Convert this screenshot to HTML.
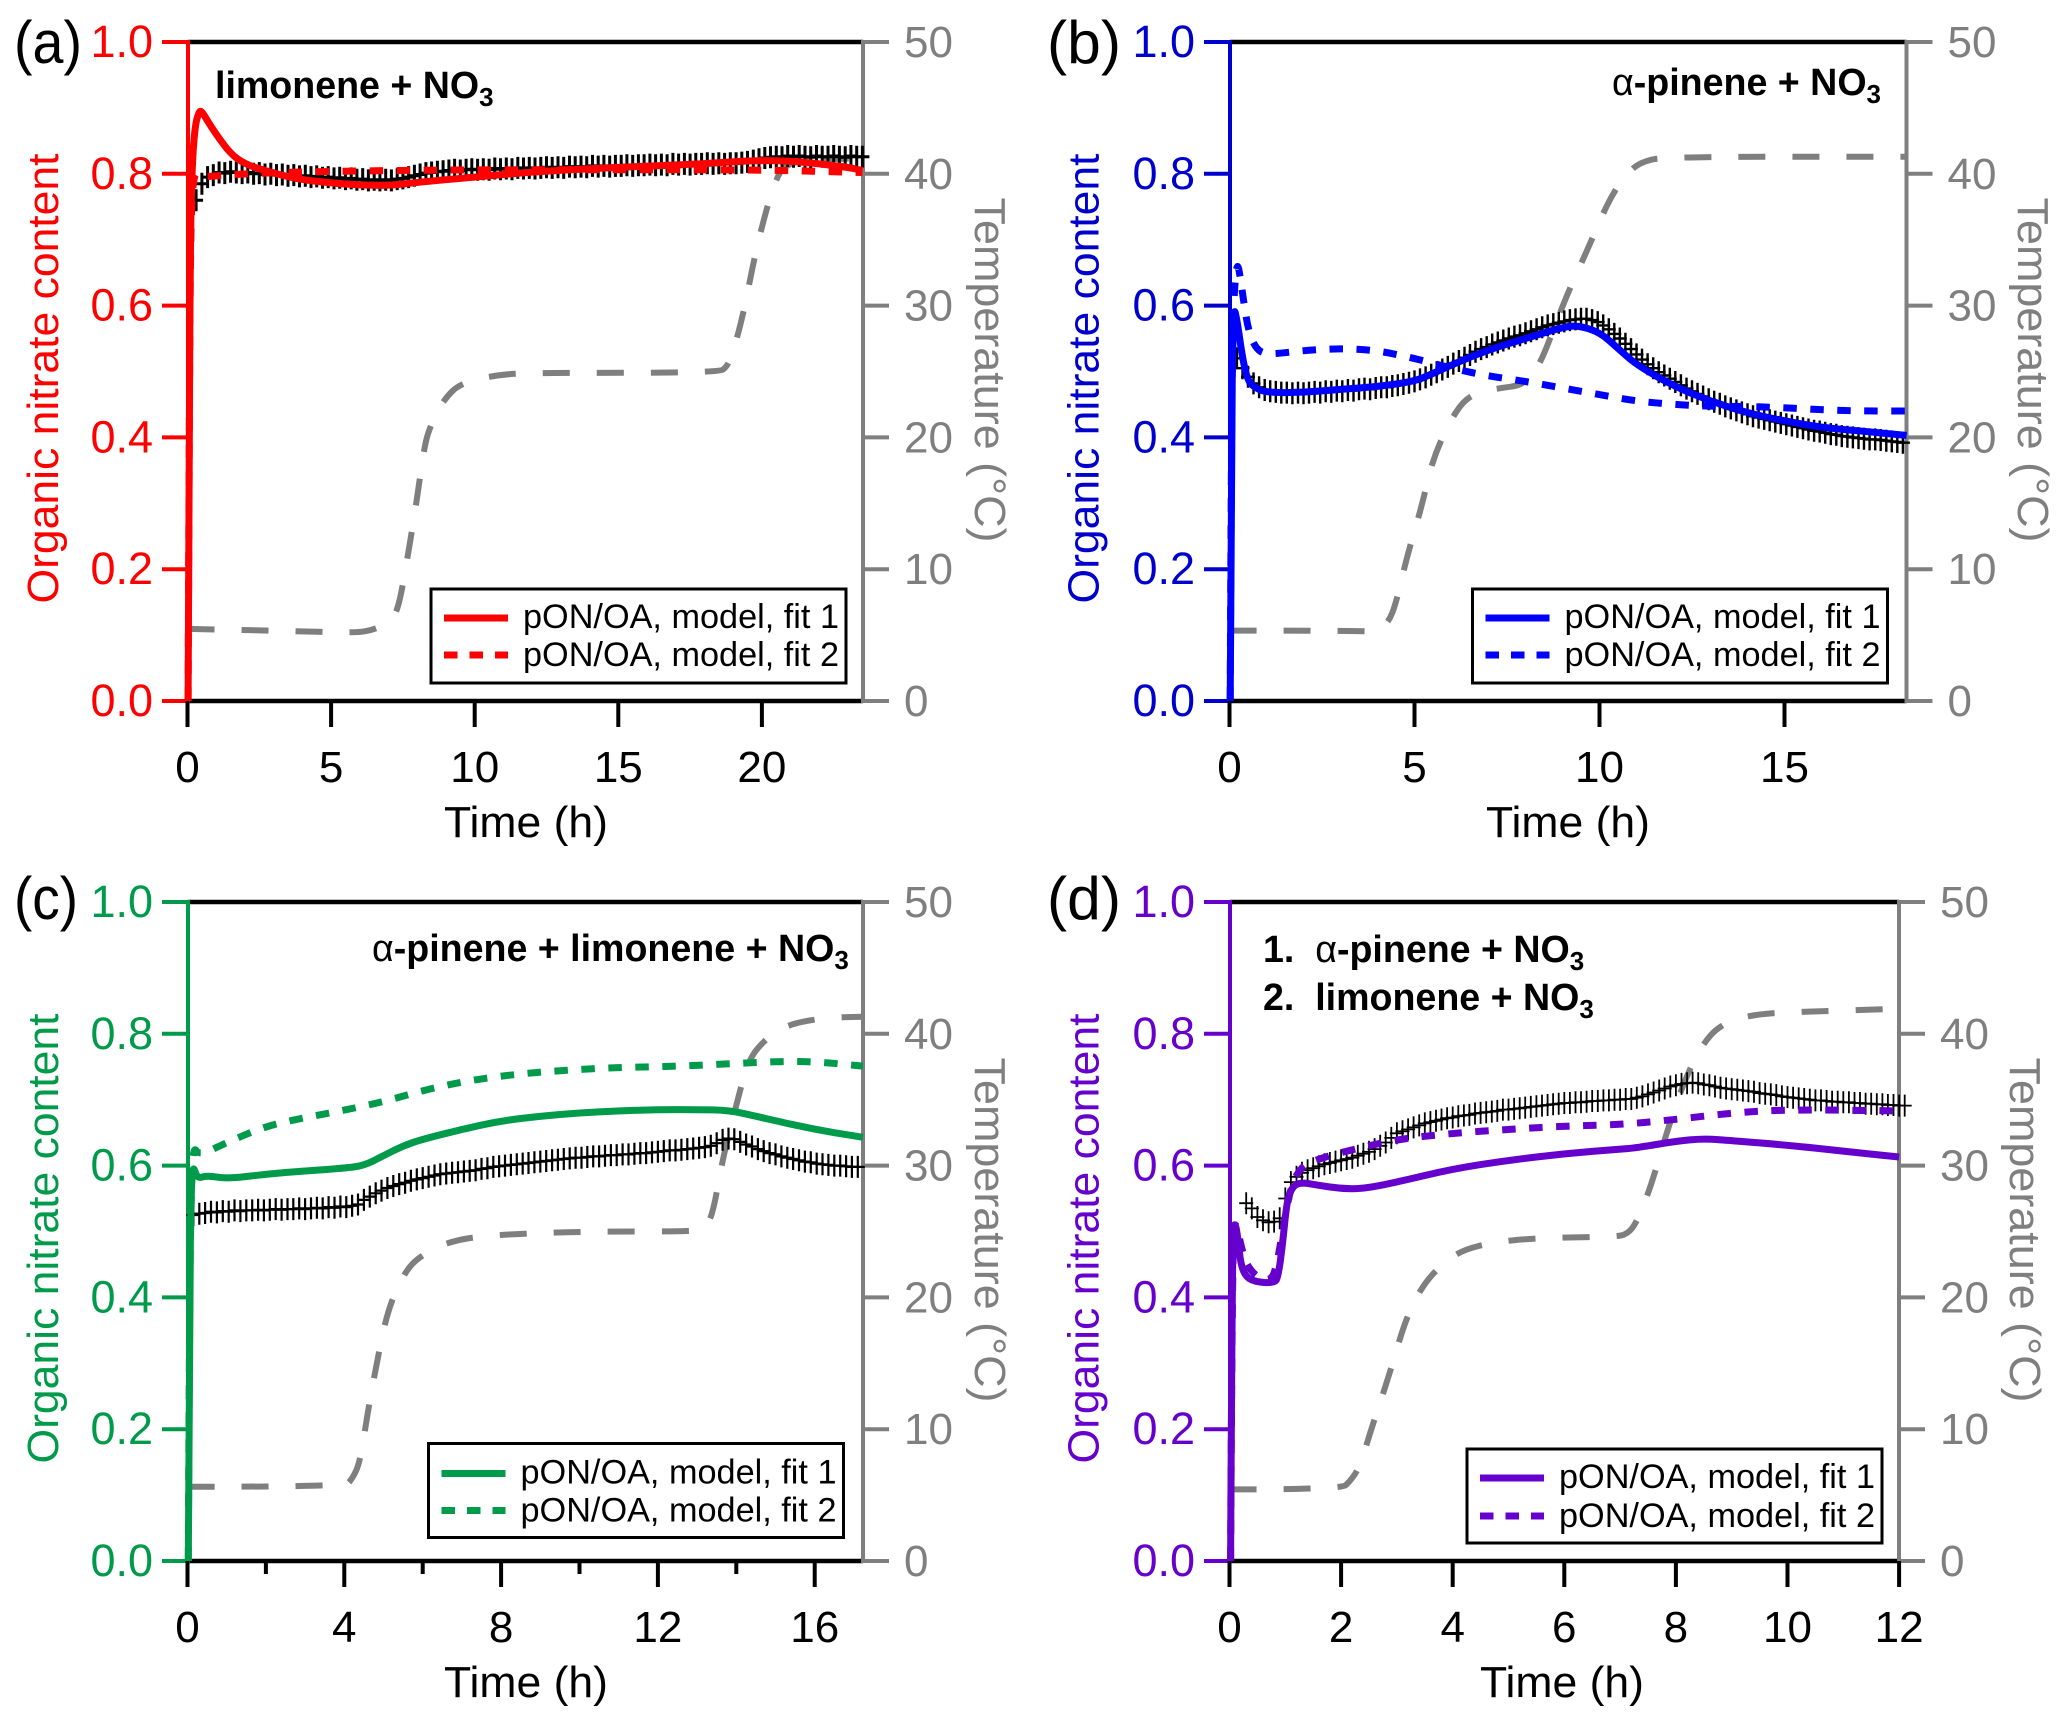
<!DOCTYPE html>
<html lang="en">
<head>
<meta charset="utf-8">
<title>Organic nitrate content panels</title>
<style>
html,body{margin:0;padding:0;background:#fff;}
svg{display:block;font-family:"Liberation Sans",Arial,sans-serif;}
</style>
</head>
<body>
<svg id="fig" xmlns="http://www.w3.org/2000/svg" width="2067" height="1724" viewBox="0 0 2067 1724"></svg>
<script>
// ---------- tick labels ----------
const valueTicks = [0, 0.2, 0.4, 0.6, 0.8, 1.0];
const tempTicks = [0, 10, 20, 30, 40, 50];
const aTimeTicks = [0, 5, 10, 15, 20];
const bTimeTicks = [0, 5, 10, 15];
const cTimeTicks = [0, 4, 8, 12, 16];
const cTimeMinor = [2, 6, 10, 14];
const dTimeTicks = [0, 2, 4, 6, 8, 10, 12];

// ---------- panel (a) limonene ----------
const aFit1T = [0.02,0.06,0.1,0.15,0.25,0.4,0.5,0.7,1,1.5,2,2.6,3.8,5,6,7,8,10,12,15,18,19.5,21,23,23.5];
const aFit1V = [0,0.4,0.7,0.8,0.87,0.895,0.895,0.88,0.86,0.83,0.815,0.806,0.792,0.786,0.783,0.782,0.787,0.795,0.803,0.81,0.815,0.82,0.82,0.81,0.805];
const aFit2T = [0.02,0.06,0.1,0.2,0.5,1,2,4,7,10,15,20,23.5];
const aFit2V = [0,0.4,0.7,0.805,0.795,0.797,0.8,0.803,0.805,0.806,0.806,0.806,0.802];
const aTempT = [0,3.8,5.84,6.5,7,7.33,7.67,7.97,8.25,8.48,8.93,9.5,10.65,11.8,18.5,18.8,19,19.36,19.77,20.16,20.4,20.7,21.3,23.5];
const aTempV = [5.47,5.3,5.17,5.4,6,6.8,11,15,19.4,21,22.9,24.1,24.7,24.9,24.9,25.4,26.5,29.4,34,37.3,39,40.5,41,41.2];
const aDataStart = 0.3, aDataStep = 0.2;
const aData = [
.760,.785,.795,.798,.802,.801,.803,.802,.801,.802,
.800,.801,.799,.800,.798,.799,.797,.798,.796,.797,
.795,.796,.794,.795,.793,.794,.792,.793,.791,.792,
.790,.791,.790,.791,.790,.792,.793,.795,.797,.799,
.801,.802,.803,.804,.805,.806,.805,.806,.807,.806,
.807,.806,.808,.807,.808,.807,.809,.808,.809,.808,
.809,.810,.809,.810,.809,.811,.810,.811,.810,.812,
.811,.812,.811,.812,.812,.813,.812,.813,.813,.814,
.813,.814,.813,.815,.814,.815,.814,.815,.815,.816,
.815,.816,.815,.816,.816,.817,.818,.820,.822,.824,
.825,.826,.825,.827,.826,.827,.826,.825,.827,.826,
.826,.827,.826,.825,.827,.826,.826];

// ---------- panel (b) alpha-pinene ----------
const bFit1T = [0.02,0.05,0.1,0.2,0.35,0.5,0.7,1,2,3,4,5,5.5,6,7,8,9,9.4,10,10.5,11,12,13,14,15,16,17,18.3];
const bFit1V = [0,0.4,0.6,0.58,0.52,0.485,0.475,0.468,0.468,0.473,0.477,0.485,0.497,0.51,0.533,0.55,0.567,0.57,0.56,0.535,0.51,0.478,0.455,0.437,0.425,0.415,0.41,0.403];
const bFit2T = [0.02,0.05,0.1,0.2,0.3,0.4,0.5,0.7,1,2,3,4,5,6,7,8,9,10,11,12,13,14,15,16,17,18.3];
const bFit2V = [0,0.4,0.6,0.67,0.64,0.6,0.565,0.535,0.525,0.532,0.535,0.532,0.52,0.505,0.493,0.485,0.475,0.465,0.455,0.45,0.447,0.447,0.445,0.442,0.44,0.44];
const bTempT = [0,3.5,4,4.3,4.5,4.8,5.2,5.5,6.1,6.55,7.2,8,8.4,8.8,9.15,9.7,10.2,10.66,11.1,11.8,18.3];
const bTempV = [5.34,5.34,5.2,6,7.4,11,14.8,18.5,22,23.3,23.7,24,25.6,28.5,31,34.4,37.7,39.8,40.9,41.3,41.3];
const bDataStart = 0.2, bDataStep = 0.15;
const bData = [
.520,.505,.492,.482,.476,.472,.470,.469,.468,.468,
.467,.468,.467,.468,.469,.468,.470,.469,.471,.470,
.472,.471,.473,.474,.473,.475,.476,.476,.478,.479,
.481,.483,.485,.488,.491,.495,.499,.503,.507,.512,
.516,.521,.525,.530,.534,.537,.541,.544,.547,.550,
.553,.555,.558,.561,.564,.567,.570,.572,.574,.576,
.578,.579,.580,.580,.578,.575,.570,.564,.557,.550,
.542,.534,.526,.518,.511,.505,.499,.494,.489,.484,
.479,.474,.470,.466,.462,.458,.454,.451,.447,.444,
.441,.438,.435,.432,.430,.428,.426,.424,.422,.420,
.418,.416,.414,.412,.410,.409,.407,.405,.404,.402,
.401,.400,.399,.398,.397,.397,.396,.395,.394,.393,
.392];

// ---------- panel (c) alpha-pinene + limonene ----------
const cFit1T = [0.02,0.05,0.1,0.15,0.25,0.5,1,2,3,4,4.5,5,5.5,6,7,8,9,10,11,12,13,13.8,14.5,15,16,17,17.23];
const cFit1V = [0,0.4,0.58,0.6,0.58,0.585,0.58,0.587,0.592,0.596,0.6,0.615,0.63,0.64,0.655,0.668,0.675,0.68,0.683,0.685,0.685,0.684,0.675,0.668,0.655,0.645,0.643];
const cFit2T = [0.02,0.05,0.1,0.15,0.3,1,2,3,4,5,6,7,8,9,10,11,12,13,14,15,16,17.23];
const cFit2V = [0,0.4,0.57,0.63,0.615,0.635,0.66,0.673,0.684,0.697,0.714,0.727,0.736,0.742,0.746,0.749,0.75,0.752,0.755,0.758,0.758,0.751];
const cTempT = [0,4,4.2,4.4,4.6,4.8,5.1,5.53,5.95,6.8,8.1,10.3,13,13.2,13.4,13.65,14,14.3,14.74,15.3,16.2,17.23];
const cTempV = [5.63,5.63,6.2,7.5,11.3,14.6,19,21.9,23.2,24.4,24.8,25,25,25.3,26.3,30.5,34.6,38,39.6,40.7,41.2,41.3];
const cDataStart = 0.15, cDataStep = 0.15;
const cData = [
.525,.527,.528,.530,.529,.531,.530,.532,.531,.532,
.532,.533,.532,.533,.534,.533,.534,.534,.535,.534,
.535,.536,.535,.537,.536,.538,.537,.539,.541,.548,
.553,.558,.562,.566,.569,.572,.574,.577,.579,.581,
.583,.585,.587,.588,.589,.590,.591,.592,.593,.595,
.596,.598,.599,.600,.601,.602,.603,.604,.605,.606,
.607,.608,.609,.610,.611,.612,.612,.613,.614,.614,
.615,.616,.616,.617,.617,.618,.619,.619,.620,.621,
.622,.623,.623,.624,.625,.626,.627,.628,.630,.634,
.639,.641,.640,.636,.632,.629,.625,.622,.619,.617,
.614,.612,.610,.608,.606,.605,.603,.602,.601,.600,
.600,.599,.598,.598];

// ---------- panel (d) sequential ----------
const dFit1T = [0.02,0.05,0.1,0.15,0.2,0.3,0.5,0.8,0.87,0.95,1.02,1.1,1.25,1.6,2,2.4,3,4,5,6,7,7.3,8,8.5,9,10,11,12];
const dFit1V = [0,0.5,0.515,0.49,0.45,0.43,0.423,0.422,0.43,0.48,0.54,0.565,0.575,0.57,0.565,0.565,0.575,0.595,0.608,0.618,0.625,0.627,0.637,0.641,0.638,0.631,0.622,0.613];
const dFit2T = [0.02,0.05,0.12,0.2,0.3,0.5,0.75,0.85,0.95,1.1,1.3,1.6,2,3,4,5,6,7,8,9,10,12];
const dFit2V = [0,0.5,0.515,0.48,0.45,0.43,0.425,0.45,0.5,0.57,0.6,0.61,0.62,0.64,0.649,0.655,0.66,0.662,0.67,0.68,0.685,0.683];
const dTempT = [0,2,2.16,2.33,2.57,2.87,3.16,3.46,3.8,4.17,4.76,5.47,6.9,7.13,7.3,7.55,7.84,8.14,8.44,8.79,9.38,10.45,12];
const dTempV = [5.43,5.43,6.05,7.1,10.4,14.2,18.4,20.9,22.5,23.6,24.2,24.5,24.6,24.8,25.7,28.4,32.6,36.3,39,40.7,41.5,41.7,41.9];
const dDataStart = 0.3, dDataStep = 0.1;
const dData = [
.543,.535,.522,.517,.514,.515,.520,.550,.575,.583,
.589,.593,.596,.599,.602,.604,.606,.608,.610,.612,
.615,.618,.621,.625,.630,.635,.642,.649,.652,.655,
.658,.661,.664,.666,.668,.670,.672,.673,.675,.676,
.677,.679,.680,.681,.682,.683,.685,.685,.686,.687,
.688,.689,.690,.691,.692,.693,.694,.695,.695,.696,
.696,.697,.698,.698,.699,.699,.700,.700,.701,.701,
.703,.705,.708,.711,.714,.717,.720,.722,.724,.725,
.726,.725,.723,.722,.720,.718,.717,.716,.715,.714,
.713,.712,.710,.709,.708,.707,.705,.704,.703,.702,
.701,.700,.699,.699,.698,.697,.697,.696,.696,.695,
.695,.694,.694,.693,.693,.692,.692,.691,.691];

// ---------- layout ----------
const NS = 'http://www.w3.org/2000/svg';
const root = document.getElementById('fig');
const GRAY = '#7f7f7f';

function mk(parent, tag, attrs, txt) {
  const e = document.createElementNS(NS, tag);
  for (const k in attrs) e.setAttribute(k, attrs[k]);
  if (txt !== undefined) e.textContent = txt;
  parent.appendChild(e);
  return e;
}

// rounded path through the midpoints between successive samples
function smoothPath(xs, ys) {
  let d = 'M' + xs[0].toFixed(1) + ' ' + ys[0].toFixed(1);
  for (let i = 1; i < xs.length - 1; i++) {
    const mx = (xs[i] + xs[i + 1]) / 2, my = (ys[i] + ys[i + 1]) / 2;
    d += 'Q' + xs[i].toFixed(1) + ' ' + ys[i].toFixed(1) + ' ' + mx.toFixed(1) + ' ' + my.toFixed(1);
  }
  const n = xs.length - 1;
  return d + 'L' + xs[n].toFixed(1) + ' ' + ys[n].toFixed(1);
}

function drawPanel(p) {
  const g = mk(root, 'g', {});
  
  

  const xOf = function (t) { return p.xZero + t * p.pxPerHour; };
  const yOf = function (v) { return p.yBottom - v * (p.yBottom - p.yTop); };
  const yTemp = function (c) { return p.yBottom - (c / 50) * (p.yBottom - p.yTop); };

  // frame
  const top = mk(g, 'line', {x1:p.x0, x2:p.x1, y1:p.yTop, y2:p.yTop, stroke:'#000', 'stroke-width':4.5});
  
  
  const bottom = mk(g, 'line', {x1:p.x0, x2:p.x1, y1:p.yBottom, y2:p.yBottom, stroke:'#000', 'stroke-width':4.5});
  
  
  const right = mk(g, 'line', {x1:p.x1, x2:p.x1, y1:p.yTop-2, y2:p.yBottom+2, stroke:GRAY, 'stroke-width':4});
  
  
  const left = mk(g, 'line', {x1:p.x0, x2:p.x0, y1:p.yTop-2, y2:p.yBottom+2, stroke:p.axisColor, 'stroke-width':4});
  
  

  // left ticks and labels
  valueTicks.forEach(function (v) {
    const tk = mk(g, 'line', {x1:p.x0-26, x2:p.x0, y1:yOf(v), y2:yOf(v), stroke:p.axisColor, 'stroke-width':4});
    
    
    const lb = mk(g, 'text', {x:p.x0-35, y:yOf(v)+15, 'text-anchor':'end', 'font-size':45, fill:p.axisColor}, v.toFixed(1));
    
    
  });

  // right ticks and labels
  tempTicks.forEach(function (c) {
    const tk = mk(g, 'line', {x1:p.x1, x2:p.x1+26, y1:yTemp(c), y2:yTemp(c), stroke:GRAY, 'stroke-width':4});
    
    
    const lb = mk(g, 'text', {x:p.x1+41, y:yTemp(c)+15, 'font-size':44, fill:GRAY}, String(c));
    
    
  });

  // x ticks and labels
  p.timeTicks.forEach(function (t) {
    const tk = mk(g, 'line', {x1:xOf(t), x2:xOf(t), y1:p.yBottom, y2:p.yBottom+26, stroke:'#000', 'stroke-width':4});
    
    
    const lb = mk(g, 'text', {x:xOf(t), y:p.yBottom+81, 'text-anchor':'middle', 'font-size':44, fill:'#000'}, String(t));
    
    
  });
  (p.timeMinor || []).forEach(function (t) {
    const tk = mk(g, 'line', {x1:xOf(t), x2:xOf(t), y1:p.yBottom, y2:p.yBottom+13, stroke:'#000', 'stroke-width':4});
    
    
  });

  // axis titles
  const xT = mk(g, 'text', {x:p.timeTitleX, y:p.yBottom+136, 'text-anchor':'middle', 'font-size':44, fill:'#000', textLength:164, lengthAdjust:'spacingAndGlyphs'}, 'Time (h)');
  
  
  const cyL = (p.yTop + p.yBottom) / 2 + 7;
  const yL = mk(g, 'text', {transform:'translate(' + p.leftTitleX + ' ' + cyL + ') rotate(-90)', 'text-anchor':'middle', 'font-size':44, fill:p.axisColor, textLength:450, lengthAdjust:'spacingAndGlyphs'}, 'Organic nitrate content');
  
  
  const yR = mk(g, 'text', {transform:'translate(' + p.rightTitleX + ' ' + (p.yTop + 328) + ') rotate(90)', 'text-anchor':'middle', 'font-size':44, fill:GRAY, textLength:345, lengthAdjust:'spacingAndGlyphs'}, 'Temperature (°C)');
  
  

  // panel letter
  const let_ = mk(g, 'text', {x:p.letterX, y:p.letterY, 'font-size':60, fill:'#000', textLength:p.letterW, lengthAdjust:'spacingAndGlyphs'}, '(' + p.id + ')');
  
  

  // temperature curve
  const tempLine = mk(g, 'path', {d:smoothPath(p.tempT.map(xOf), p.tempV.map(yTemp)), fill:'none', stroke:GRAY, 'stroke-width':6, 'stroke-dasharray':'27 27'});
  
  

  // measured markers
  const dataGroup = mk(g, 'g', {stroke:'#000', 'stroke-width':p.markStroke, fill:'none'});
  
  
  p.data.forEach(function (v, i) {
    const cx = xOf(p.dataStart + i * p.dataStep), cy = yOf(v);
    const m = mk(dataGroup, 'path', {d:'M' + (cx-7).toFixed(1) + ' ' + cy.toFixed(1) + 'h14M' + cx.toFixed(1) + ' ' + (cy-11).toFixed(1) + 'v22'});
    
    
  });

  // model curves
  const f2 = mk(g, 'path', {d:smoothPath(p.fit2T.map(xOf), p.fit2V.map(yOf)), fill:'none', stroke:p.fitColor, 'stroke-width':7, 'stroke-dasharray':'13.5 13.5'});
  
  
  const f1 = mk(g, 'path', {d:smoothPath(p.fit1T.map(xOf), p.fit1V.map(yOf)), fill:'none', stroke:p.fitColor, 'stroke-width':7, 'stroke-linejoin':'round'});
  
  

  // annotation lines
  p.notes.forEach(function (n) {
    const t = mk(g, 'text', {x:n.x, y:n.y, 'font-size':37.6, 'font-weight':'bold', fill:'#000'});
    
    
    if (n.prefix) mk(t, 'tspan', {}, n.prefix);
    if (n.alpha) { mk(t, 'tspan', {'font-weight':'normal'}, 'α'); }
    mk(t, 'tspan', {}, n.text);
    mk(t, 'tspan', {'font-size':26, dy:8}, '3');
  });

  // legend
  const lg = mk(g, 'g', {});
  
  
  mk(lg, 'rect', {x:p.lgX, y:p.lgY, width:415, height:94, fill:'#fff', stroke:'#000', 'stroke-width':3});
  const r1 = p.lgY + p.lgR1, r2 = p.lgY + p.lgR2;
  const s1 = mk(lg, 'line', {x1:p.lgX+13, x2:p.lgX+77, y1:r1, y2:r1, stroke:p.fitColor, 'stroke-width':7});
  
  
  const s2 = mk(lg, 'line', {x1:p.lgX+13, x2:p.lgX+77, y1:r2, y2:r2, stroke:p.fitColor, 'stroke-width':7, 'stroke-dasharray':'13.5 12'});
  
  
  const l1 = mk(lg, 'text', {x:p.lgX+92, y:r1+10, 'font-size':34, fill:'#000', textLength:316, lengthAdjust:'spacingAndGlyphs'}, 'pON/OA, model, fit 1');
  
  
  const l2 = mk(lg, 'text', {x:p.lgX+92, y:r2+11, 'font-size':34, fill:'#000', textLength:316, lengthAdjust:'spacingAndGlyphs'}, 'pON/OA, model, fit 2');
  
  
}

drawPanel({id:'a', x0:188, xZero:187.5, pxPerHour:28.72, x1:863, yTop:42, yBottom:701,
  axisColor:'#ff0000', fitColor:'#ff0000', timeTicks:aTimeTicks, timeTitleX:526, leftTitleX:58, rightTitleX:975,
  letterX:14, letterY:63, letterW:68, markStroke:3, tempT:aTempT, tempV:aTempV, data:aData, dataStart:aDataStart, dataStep:aDataStep,
  fit1T:aFit1T, fit1V:aFit1V, fit2T:aFit2T, fit2V:aFit2V,
  notes:[{x:215, y:98, text:'limonene + NO'}],
  lgX:431, lgY:589, lgR1:29, lgR2:66});

drawPanel({id:'b', x0:1230, xZero:1229.5, pxPerHour:37, x1:1906.5, yTop:42, yBottom:701,
  axisColor:'#0000cc', fitColor:'#0000ff', timeTicks:bTimeTicks, timeTitleX:1568, leftTitleX:1098.5, rightTitleX:2018,
  letterX:1047, letterW:74, letterY:63, markStroke:2.4, tempT:bTempT, tempV:bTempV, data:bData, dataStart:bDataStart, dataStep:bDataStep,
  fit1T:bFit1T, fit1V:bFit1V, fit2T:bFit2T, fit2V:bFit2V,
  notes:[{x:1612, y:95, alpha:true, text:'-pinene + NO'}],
  lgX:1472.5, lgY:589, lgR1:29, lgR2:66});

drawPanel({id:'c', x0:188, xZero:187.5, pxPerHour:39.2, x1:863, yTop:902, yBottom:1561,
  axisColor:'#009b4a', fitColor:'#009b4a', timeTicks:cTimeTicks, timeMinor:cTimeMinor, timeTitleX:526, leftTitleX:58, rightTitleX:975,
  letterX:14, letterW:64, letterY:919, markStroke:2.2, tempT:cTempT, tempV:cTempV, data:cData, dataStart:cDataStart, dataStep:cDataStep,
  fit1T:cFit1T, fit1V:cFit1V, fit2T:cFit2T, fit2V:cFit2V,
  notes:[{x:372, y:961, alpha:true, text:'-pinene + limonene + NO'}],
  lgX:428.5, lgY:1443.5, lgR1:30, lgR2:67});

drawPanel({id:'d', x0:1230, xZero:1229.5, pxPerHour:55.8, x1:1899, yTop:902, yBottom:1561,
  axisColor:'#6600cc', fitColor:'#6600cc', timeTicks:dTimeTicks, timeTitleX:1562, leftTitleX:1098.5, rightTitleX:2010,
  letterX:1047, letterW:74, letterY:919, markStroke:1.8, tempT:dTempT, tempV:dTempV, data:dData, dataStart:dDataStart, dataStep:dDataStep,
  fit1T:dFit1T, fit1V:dFit1V, fit2T:dFit2T, fit2V:dFit2V,
  notes:[{x:1263, y:962, prefix:'1.\u00A0\u00A0', alpha:true, text:'-pinene + NO'},
         {x:1263, y:1010, prefix:'2.\u00A0\u00A0', text:'limonene + NO'}],
  lgX:1467, lgY:1449, lgR1:29, lgR2:67});
</script>
</body>
</html>
